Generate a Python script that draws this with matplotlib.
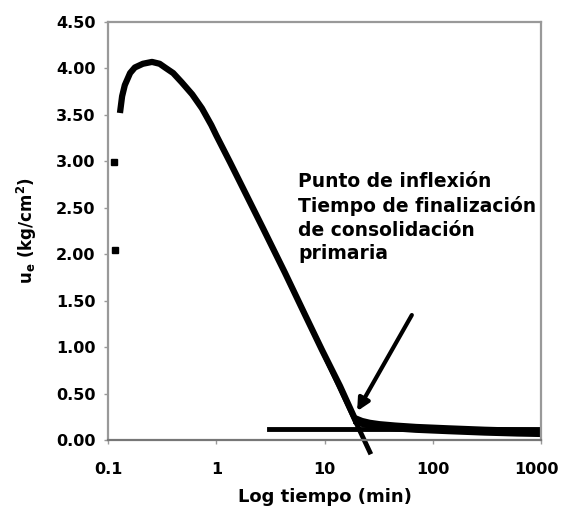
import matplotlib
matplotlib.use("Agg")
import matplotlib.pyplot as plt
import matplotlib.transforms as mtransforms
from matplotlib.ticker import FixedLocator, FixedFormatter, NullLocator

# curva de disipación (tiempo en min, presión en kg/cm2)
tiempo = [0.129, 0.135, 0.143, 0.16, 0.177, 0.21, 0.255, 0.30, 0.336, 0.40,
          0.48, 0.60, 0.738, 0.90, 1.0, 1.34, 2.70, 4.31, 6.59, 9.46, 13.9, 19.9]
presion = [3.52, 3.70, 3.82, 3.95, 4.01, 4.05, 4.07, 4.05, 4.01, 3.95,
           3.85, 3.72, 3.57, 3.39, 3.28, 2.99, 2.28, 1.80, 1.35, 0.97, 0.58, 0.18]

# cola de consolidación secundaria
tiempo_cola = [19.0, 22.0, 26.0, 32.0, 45.0, 70.0, 140.0, 300.0, 600.0, 1000.0]
presion_cola = [0.22, 0.19, 0.17, 0.155, 0.14, 0.125, 0.11, 0.095, 0.085, 0.08]

# lecturas sueltas al inicio
tiempo_pts = [0.114, 0.116]
presion_pts = [2.99, 2.04]

# tangentes
tang1_t = [9.46, 26.2]
tang1_u = [0.97, -0.13]
tang2_t = [3.1, 1000.0]
tang2_u = [0.118, 0.118]

# flecha al punto de inflexión
flecha_ini = (64.0, 1.345)
flecha_fin = (20.0, 0.31)

yticks = [0.0, 0.5, 1.0, 1.5, 2.0, 2.5, 3.0, 3.5, 4.0, 4.5]
xticks = [0.1, 1, 10, 100, 1000]
xlabels = ["0.1", "1", "10", "100", "1000"]

fig = plt.figure(figsize=(5.61, 5.11), dpi=100)
ax = fig.add_axes([0.1925, 0.139, 0.772, 0.818])

ax.plot(tiempo, presion, color="black", lw=4.5, solid_capstyle="butt",
        solid_joinstyle="round")
ax.plot(tiempo_cola, presion_cola, color="black", lw=6.5, solid_capstyle="butt")
ax.plot(tiempo_pts, presion_pts, ls="none", marker="s", ms=4, color="black")
ax.plot(tang1_t, tang1_u, color="black", lw=3.5, clip_on=False)
ax.plot(tang2_t, tang2_u, color="black", lw=3.5)
ax.annotate("", xy=flecha_fin, xytext=flecha_ini,
            arrowprops=dict(arrowstyle="-|>", color="black", lw=3,
                            mutation_scale=18, shrinkA=0, shrinkB=0))

ax.text(5.7, 2.88, "Punto de inflexión\nTiempo de finalización\nde consolidación\nprimaria",
        fontsize=13.5, fontweight="bold", va="top", ha="left", linespacing=1.3)

ax.set_xscale("log")
ax.set_xlim(0.1, 1000)
ax.set_ylim(0, 4.5)
ax.xaxis.set_major_locator(FixedLocator(xticks))
ax.xaxis.set_major_formatter(FixedFormatter(xlabels))
ax.xaxis.set_minor_locator(NullLocator())
ax.set_yticks(yticks)
ax.set_yticklabels(["%.2f" % v for v in yticks])

for s in ax.spines.values():
    s.set_color("#999999")
    s.set_linewidth(1.6)
ax.spines["bottom"].set_color("#777777")

ax.tick_params(axis="both", direction="out", length=3, width=1, color="#999999",
               labelsize=11.5)
ax.tick_params(axis="x", pad=13)
ax.tick_params(axis="y", pad=6)
for lab in ax.get_xticklabels() + ax.get_yticklabels():
    lab.set_fontweight("bold")

# el rótulo "1000" queda pegado al borde derecho
fig.canvas.draw()
ultimo = ax.get_xticklabels()[-1]
ultimo.set_transform(ultimo.get_transform() +
                     mtransforms.ScaledTranslation(-5 / 100, 0, fig.dpi_scale_trans))

ax.set_xlabel("Log tiempo (min)", fontsize=13, fontweight="bold", labelpad=8)
ax.set_ylabel("u$_\\mathbf{e}$ (kg/cm$^\\mathbf{2}$)", fontsize=12,
              fontweight="bold", labelpad=12)

fig.savefig("out.png", dpi=100)
